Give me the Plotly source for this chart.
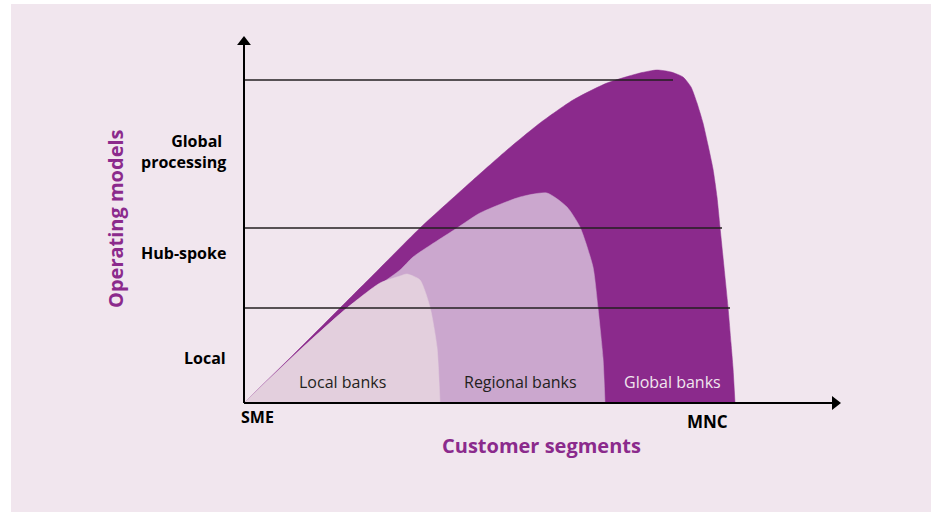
import plotly.graph_objects as go

# ---- data (units: x = customer segment scale, y = operating model scale) ----
global_x = [0, 48, 96, 136, 176, 229, 263, 296, 329, 363, 396, 413, 427, 439, 447, 453, 459, 464, 469, 473, 476, 480, 484, 487, 489, 491]
global_y = [0, 47, 95, 135, 175, 223, 253, 280, 303, 320, 330, 333, 331, 326, 316, 300, 280, 258, 234, 206, 176, 136, 96, 60, 35, 0]

regional_x = [0, 50, 103, 156, 169, 213, 236, 276, 303, 323, 336, 349, 354, 359, 361]
regional_y = [0, 47, 95, 133, 146, 175, 190, 206, 210, 196, 176, 136, 95, 45, 0]

local_x = [0, 59, 103, 136, 156, 163, 176, 186, 193, 196]
local_y = [0, 56, 95, 120, 127, 129, 123, 96, 56, 0]

band_levels = [95, 175, 323]
band_ends = [486, 478, 429]

model_labels = ["Local", "Hub-spoke", "Global <br>processing"]
model_label_y = [45, 150, 252]

segment_labels = ["Local banks", "Regional banks", "Global banks"]
segment_label_x = [98, 276, 428]

x_axis_end = 597
y_axis_end = 367

# ---- colours ----
BG = "#F1E6EE"
C_GLOBAL = "#8B2A8C"
C_REGIONAL = "#CBA7CE"
C_LOCAL = "#E3CFDD"
INK = "#231F20"
FONT = "Open Sans"

fig = go.Figure()

for xs, ys, col in [(global_x, global_y, C_GLOBAL),
                    (regional_x, regional_y, C_REGIONAL),
                    (local_x, local_y, C_LOCAL)]:
    fig.add_trace(go.Scatter(x=xs, y=ys, mode="lines", fill="toself",
                             fillcolor=col, line=dict(color=col, width=0.5,
                             shape="spline", smoothing=0.6),
                             hoverinfo="skip", showlegend=False))

for lvl, end in zip(band_levels, band_ends):
    fig.add_trace(go.Scatter(x=[0, end], y=[lvl, lvl], mode="lines",
                             line=dict(color=INK, width=1.5),
                             hoverinfo="skip", showlegend=False))

# axes with arrows
fig.add_trace(go.Scatter(x=[0, 0], y=[0, y_axis_end - 8], mode="lines",
                         line=dict(color="black", width=2), hoverinfo="skip", showlegend=False))
fig.add_trace(go.Scatter(x=[0, x_axis_end - 8], y=[0, 0], mode="lines",
                         line=dict(color="black", width=2), hoverinfo="skip", showlegend=False))
fig.add_trace(go.Scatter(x=[0], y=[y_axis_end - 6], mode="markers",
                         marker=dict(symbol="triangle-up", size=12, color="black"),
                         hoverinfo="skip", showlegend=False))
fig.add_trace(go.Scatter(x=[x_axis_end - 6], y=[0], mode="markers",
                         marker=dict(symbol="triangle-right", size=12, color="black"),
                         hoverinfo="skip", showlegend=False))

ann = []
for lab, yy in zip(model_labels, model_label_y):
    ann.append(dict(x=-16, y=yy, text="<b>%s</b>" % lab, xanchor="right", yanchor="middle",
                    align="right", showarrow=False,
                    font=dict(family=FONT, size=16, color="black")))
seg_colors = [INK, INK, BG]
for lab, xx, c in zip(segment_labels, segment_label_x, seg_colors):
    ann.append(dict(x=xx, y=21, text=lab, xanchor="center", yanchor="middle",
                    showarrow=False, font=dict(family=FONT, size=16, color=c)))
ann.append(dict(x=13, y=-14, text="<b>SME</b>", showarrow=False, xanchor="center", yanchor="middle",
                font=dict(family=FONT, size=16, color="black")))
ann.append(dict(x=463, y=-18, text="<b>MNC</b>", showarrow=False, xanchor="center", yanchor="middle",
                font=dict(family=FONT, size=17, color="black")))
ann.append(dict(x=297, y=-42, text="<b>Customer segments</b>", showarrow=False,
                xanchor="center", yanchor="middle",
                font=dict(family=FONT, size=20, color=C_GLOBAL)))
ann.append(dict(x=-129, y=184, text="<b>Operating models</b>", showarrow=False, textangle=-90,
                xanchor="center", yanchor="middle",
                font=dict(family=FONT, size=20, color=C_GLOBAL)))

fig.update_layout(
    width=935, height=515,
    margin=dict(l=0, r=0, t=0, b=0),
    paper_bgcolor="white", plot_bgcolor="white",
    xaxis=dict(range=[-244, 691], visible=False, fixedrange=True),
    yaxis=dict(range=[-112, 403], visible=False, fixedrange=True),
    shapes=[dict(type="rect", xref="x", yref="y", x0=-233, x1=687, y0=-109, y1=399,
                 fillcolor=BG, line=dict(width=0), layer="below")],
    annotations=ann,
    showlegend=False,
)

fig.write_html("out.html", config={"displayModeBar": False},
               post_script="document.body.style.margin='0px';")
